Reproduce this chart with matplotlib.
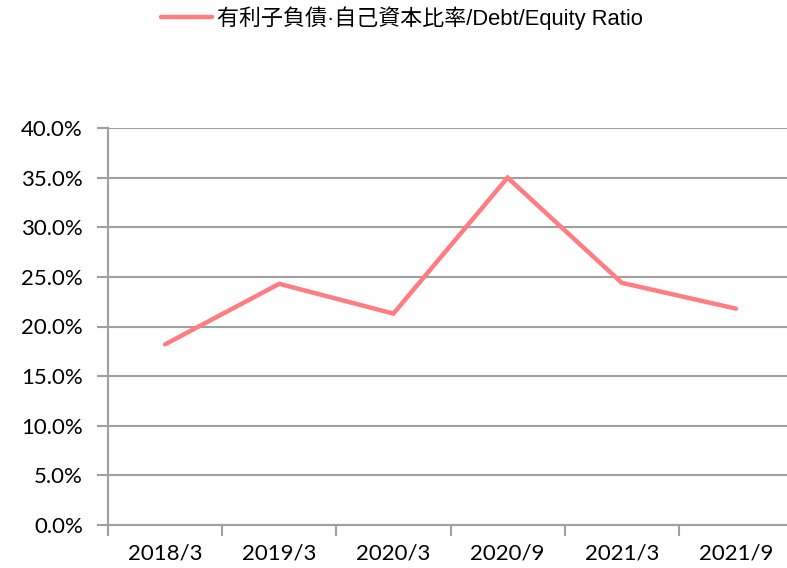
import matplotlib
matplotlib.use("Agg")
import matplotlib.pyplot as plt
from matplotlib.ticker import FuncFormatter, FixedLocator

periods = ["2018/3", "2019/3", "2020/3", "2020/9", "2021/3", "2021/9"]
debt_equity = [18.2, 24.3, 21.3, 35.0, 24.4, 21.8]
y_ticks = [0, 5, 10, 15, 20, 25, 30, 35, 40]
label = "有利子負債·自己資本比率/Debt/Equity Ratio"

W, H = 787, 568
fig = plt.figure(figsize=(W / 100, H / 100), dpi=100)
# plot area runs a few pixels past the right edge of the image, as in the source
left, right, top, bottom = 108, 793, 128, 525
ax = fig.add_axes([left / W, 1 - bottom / H, (right - left) / W, (bottom - top) / H])

x = list(range(len(periods)))
line, = ax.plot(x, debt_equity, color="#FF7C80", lw=3.2, solid_joinstyle="miter",
                solid_capstyle="round", zorder=3)

ax.set_xlim(-0.5, len(periods) - 0.5)
ax.set_ylim(0, 40)
ax.yaxis.set_major_locator(FixedLocator(y_ticks))
ax.yaxis.set_major_formatter(FuncFormatter(lambda v, _: f"{v:.1f}%"))
ax.grid(axis="y", color="#A0A0A0", lw=1.5)
ax.set_axisbelow(True)

ax.set_xticks(x)
ax.set_xticklabels(periods)
ax.set_xticks([i + 0.5 for i in range(-1, len(periods))], minor=True)
ax.tick_params(axis="x", which="major", length=0, pad=13)
ax.tick_params(axis="x", which="minor", length=8, width=1.5, color="#A0A0A0")
ax.tick_params(axis="y", length=8, width=1.5, color="#A0A0A0", pad=10)

for lbl in ax.get_xticklabels() + ax.get_yticklabels():
    lbl.set_fontfamily(["Lato", "DejaVu Sans"])
    lbl.set_fontsize(16)
    lbl.set_color("#000000")

for s in ["top", "right"]:
    ax.spines[s].set_visible(False)
for s in ["left", "bottom"]:
    ax.spines[s].set_color("#A0A0A0")
    ax.spines[s].set_linewidth(1.5)

leg = fig.legend([line], [label], loc="center", bbox_to_anchor=(402 / W, 1 - 18 / H),
                 frameon=False, handlelength=2.3, handletextpad=0.25,
                 prop={"family": ["Liberation Sans", "Noto Sans CJK JP"], "size": 15.8})

fig.savefig("out.png", dpi=100)
